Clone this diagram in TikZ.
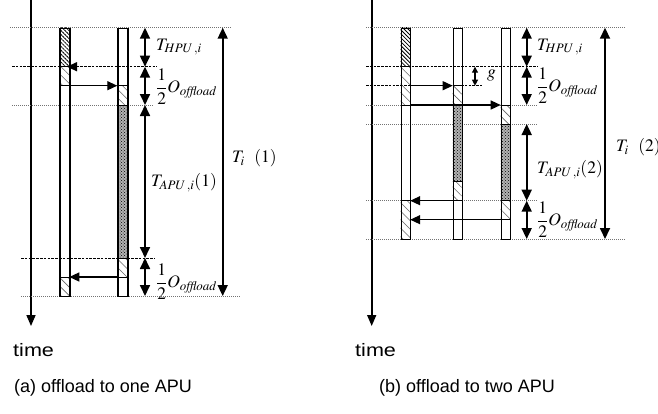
\documentclass[tikz,border=0pt]{standalone}
\usepackage{mathptmx}
\usepackage{fontspec}
\setmainfont{Liberation Sans}
\usetikzlibrary{arrows.meta,patterns,patterns.meta}
\tikzset{
  tick/.style={-{Triangle[length=10pt,width=9pt]}, line width=1.3pt},
  dimarr/.style={{Triangle[length=11pt,width=10pt]}-{Triangle[length=11pt,width=10pt]}, line width=1.7pt},
  garr/.style={{Triangle[length=6pt,width=6pt]}-{Triangle[length=6pt,width=6pt]}, line width=1.1pt},
  bar/.style={draw, line width=1.2pt, minimum width=10pt, inner sep=0pt, anchor=north west},
  dotl/.style={black!55, dash pattern=on 1pt off 1pt, line width=1pt},
  dashl/.style={black, dash pattern=on 2.5pt off 1.3pt, line width=0.8pt},
  dense/.style={pattern={Lines[angle=-45,distance=2.8pt,line width=0.8pt]}},
  light/.style={pattern={Lines[angle=-45,distance=6pt,line width=0.6pt]}, pattern color=black!60},
  dark/.style={preaction={fill=gray!60}, pattern=crosshatch dots, pattern color=black},
  lab/.style={anchor=west, inner sep=0pt, font=\fontsize{17.5}{20}\selectfont},
  axis/.style={-{Triangle[length=11pt,width=9pt]}, line width=1.6pt},
  txt/.style={anchor=west, inner sep=0pt, font=\fontsize{18}{21}\selectfont},
}
\begin{document}
\begin{tikzpicture}[x=1pt,y=-1pt]
\useasboundingbox (0,0) rectangle (658,413);
% ================= panel (a) =================
\coordinate (ax0) at (31,0); \coordinate (ax1) at (31,326);
\draw[axis] (ax0) -- (ax1);
\node[txt] (timeA) at (13,350) {\scalebox{1.2}[1]{time}};
\node[txt] (capA) at (14,388) {(a) offload to one APU};
% guide lines
\coordinate (la1) at (10,27.7);  \coordinate (ra1) at (232,27.7);
\coordinate (la2) at (12,66.7);  \coordinate (ra2) at (157,66.7);
\coordinate (la3) at (12,105);   \coordinate (ra3) at (153,105);
\coordinate (la4) at (21,258);   \coordinate (ra4) at (155,258);
\coordinate (la5) at (21,296);   \coordinate (ra5) at (240,296);
\draw[dotl] (la1) -- (ra1);
\draw[dashl] (la2) -- (ra2);
\draw[dotl] (la3) -- (ra3);
\draw[dashl] (la4) -- (ra4);
\draw[dotl] (la5) -- (ra5);
% HPU bar
\path[dense] (59.3,27.7) rectangle (69.3,66.7);
\path[light] (59.3,66.7) rectangle (69.3,85.7);
\path[light] (59.3,277) rectangle (69.3,296);
\node[bar, minimum height=268.3pt] (hpuA) at (59.3,27.7) {};
% APU bar
\path[light] (117.3,85.7) rectangle (127.3,105);
\path[dark] (117.3,105) rectangle (127.3,258);
\path[light] (117.3,258) rectangle (127.3,277);
\node[bar, minimum height=268.3pt] (apuA) at (117.3,27.7) {};
\draw[line width=0.8pt] (59.3,66.7) -- (69.3,66.7) (59.3,85.7) -- (69.3,85.7)
  (59.3,277) -- (69.3,277) (117.3,85.7) -- (127.3,85.7) (117.3,105) -- (127.3,105)
  (117.3,258) -- (127.3,258) (117.3,277) -- (127.3,277);
% arrows
\coordinate (a0s) at (79,66.7); \coordinate (a0e) at (67,66.7);
\draw[tick] (a0s) -- (a0e);
\coordinate (a1s) at (69.3,85.7); \coordinate (a1e) at (117.3,85.7);
\draw[tick] (a1s) -- (a1e);
\coordinate (a2s) at (117.3,277); \coordinate (a2e) at (69.3,277);
\draw[tick] (a2s) -- (a2e);
% dimension arrows
\coordinate (da0) at (145,27.7); \coordinate (da1) at (145,66.7);
\coordinate (da2) at (145,105); \coordinate (da3) at (145,258); \coordinate (da4) at (145,296);
\draw[dimarr] (da0) -- (da1);
\draw[dimarr] (da1) -- (da2);
\draw[dimarr] (da2) -- (da3);
\draw[dimarr] (da3) -- (da4);
\coordinate (ta0) at (222.7,27.7); \coordinate (ta1) at (222.7,296);
\draw[dimarr] (ta0) -- (ta1);
\node[lab] (thA) at (156,47) {$T_{HPU\,,i}$};
\node[lab] (o1A) at (156,87) {${\displaystyle\frac{1}{2}}O_{\mathit{offload}}$};
\node[lab] (taA) at (151,183) {$T_{APU\,,i}(1)$};
\node[lab] (o2A) at (156,282) {${\displaystyle\frac{1}{2}}O_{\mathit{offload}}$};
\node[lab] (tiA) at (232,158) {$T_i\ \ (1)$};
% ================= panel (b) =================
\coordinate (bx0) at (371.7,0); \coordinate (bx1) at (371.7,326);
\draw[axis] (bx0) -- (bx1);
\node[txt] (timeB) at (355,350) {\scalebox{1.2}[1]{time}};
\node[txt] (capB) at (379,388) {(b) offload to two APU};
\coordinate (lb1) at (366,27.7);  \coordinate (rb1) at (625,27.7);
\coordinate (lb2) at (366,66.7);  \coordinate (rb2) at (538,66.7);
\coordinate (lb3) at (366,85.7);  \coordinate (rb3) at (482,85.7);
\coordinate (lb4) at (366,105);   \coordinate (rb4) at (538,105);
\coordinate (lb5) at (366,124);   \coordinate (rb5) at (538,124);
\coordinate (lb6) at (366,200.7); \coordinate (rb6) at (538,200.7);
\coordinate (lb7) at (366,239);   \coordinate (rb7) at (625,239);
\draw[dotl] (lb1) -- (rb1);
\draw[dashl] (lb2) -- (rb2);
\draw[dashl] (lb3) -- (rb3);
\draw[dotl] (lb4) -- (rb4);
\draw[dotl] (lb5) -- (rb5);
\draw[dotl] (lb6) -- (rb6);
\draw[dotl] (lb7) -- (rb7);
% HPU bar
\path[dense] (400.7,27.7) rectangle (410.2,66.7);
\path[light] (400.7,66.7) rectangle (410.2,105);
\path[light] (400.7,200.7) rectangle (410.2,239);
\node[bar, minimum width=9.5pt, minimum height=211.3pt] (hpuB) at (400.7,27.7) {};
% APU1 bar
\path[light] (452.7,85.7) rectangle (461.7,105);
\path[dark] (452.7,105) rectangle (461.7,181.7);
\path[light] (452.7,181.7) rectangle (461.7,200.7);
\node[bar, minimum width=9pt, minimum height=211.3pt] (apu1B) at (452.7,27.7) {};
% APU2 bar
\path[light] (500.7,105) rectangle (510,124);
\path[dark] (500.7,124) rectangle (510,200.7);
\path[light] (500.7,200.7) rectangle (510,219.7);
\node[bar, minimum width=9.3pt, minimum height=211.3pt] (apu2B) at (500.7,27.7) {};
\draw[line width=0.8pt] (400.7,66.7) -- (410.2,66.7) (400.7,105) -- (410.2,105)
  (400.7,200.7) -- (410.2,200.7)
  (452.7,85.7) -- (461.7,85.7) (452.7,105) -- (461.7,105) (452.7,181.7) -- (461.7,181.7) (452.7,200.7) -- (461.7,200.7)
  (500.7,105) -- (510,105) (500.7,124) -- (510,124) (500.7,200.7) -- (510,200.7) (500.7,219.7) -- (510,219.7);
% arrows
\coordinate (b1s) at (410.2,85.7); \coordinate (b1e) at (452.7,85.7);
\draw[tick] (b1s) -- (b1e);
\coordinate (b2s) at (410.2,105); \coordinate (b2e) at (500.7,105);
\draw[tick] (b2s) -- (b2e);
\coordinate (b3s) at (452.7,200.7); \coordinate (b3e) at (410.2,200.7);
\draw[tick] (b3s) -- (b3e);
\coordinate (b4s) at (509,219.7); \coordinate (b4e) at (410.2,219.7);
\draw[tick] (b4s) -- (b4e);
% g
\coordinate (g0) at (475,66.7); \coordinate (g1) at (475,85.7);
\draw[garr] (g0) -- (g1);
\node[lab] (gB) at (487,75) {$g$};
% dimension arrows
\coordinate (db0) at (526.7,27.7); \coordinate (db1) at (526.7,66.7);
\coordinate (db2) at (526.7,105); \coordinate (db3) at (526.7,124);
\coordinate (db4) at (526.7,200.7); \coordinate (db5) at (526.7,239);
\draw[dimarr] (db0) -- (db1);
\draw[dimarr] (db1) -- (db2);
\draw[dimarr] (db3) -- (db4);
\draw[dimarr] (db4) -- (db5);
\coordinate (tb0) at (605,27.7); \coordinate (tb1) at (605,239);
\draw[dimarr] (tb0) -- (tb1);
\node[lab] (thB) at (537,47) {$T_{HPU\,,i}$};
\node[lab] (o1B) at (537,86) {${\displaystyle\frac{1}{2}}O_{\mathit{offload}}$};
\node[lab] (taB) at (537,170) {$T_{APU\,,i}(2)$};
\node[lab] (o2B) at (537,220) {${\displaystyle\frac{1}{2}}O_{\mathit{offload}}$};
\node[lab] (tiB) at (616,147) {$T_i\ \ (2)$};
\end{tikzpicture}
\end{document}
